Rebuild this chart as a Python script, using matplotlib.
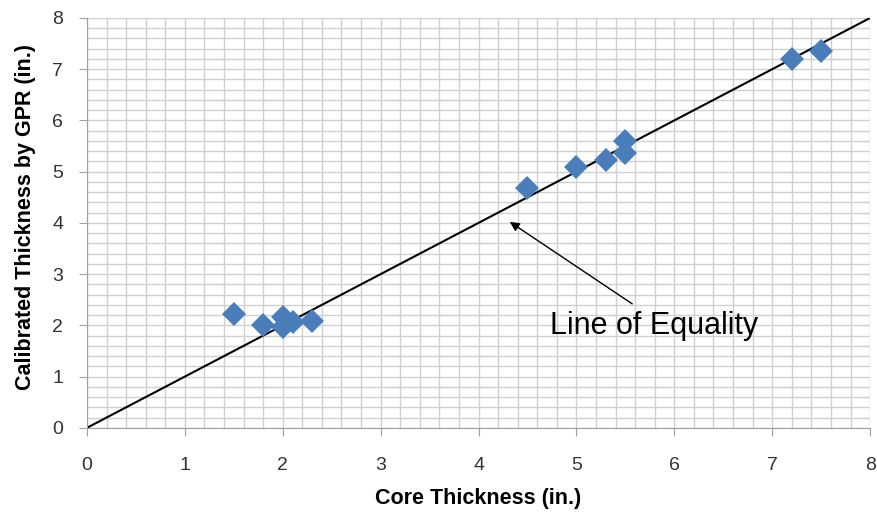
import numpy as np
import matplotlib
matplotlib.use("Agg")
import matplotlib.pyplot as plt

# values
core_thickness = [1.5, 1.8, 2.0, 2.0, 2.1, 2.3, 4.5, 5.0, 5.3, 5.5, 5.5, 7.2, 7.5]
gpr_thickness = [2.22, 2.01, 2.16, 1.97, 2.07, 2.09, 4.68, 5.10, 5.23, 5.59, 5.36, 7.19, 7.36]
equality = [0, 8]

plt.rcParams["font.family"] = ["Liberation Sans", "DejaVu Sans"]

fig = plt.figure(figsize=(8.78, 5.13), dpi=100)
ax = fig.add_axes([0.099, 0.166, 0.892, 0.799])

ax.set_xlim(0, 8)
ax.set_ylim(0, 8)
ax.set_xticks(np.arange(0, 9, 1))
ax.set_yticks(np.arange(0, 9, 1))
ax.set_xticks(np.arange(0, 8.01, 0.2), minor=True)
ax.set_yticks(np.arange(0, 8.01, 0.2), minor=True)
ax.grid(which="both", color="#d0d0d0", lw=1.0)
ax.set_axisbelow(True)
ax.tick_params(which="minor", length=0)
ax.tick_params(which="major", length=6, color="#a0a0a0", labelsize=14,
               labelcolor="#333333")
ax.tick_params(axis="x", pad=15)
ax.tick_params(axis="y", pad=11)
for s in ["top", "right"]:
    ax.spines[s].set_visible(False)
for s in ["left", "bottom"]:
    ax.spines[s].set_color("#a0a0a0")

ax.plot(equality, equality, color="black", lw=1.5, zorder=2)
ax.plot(core_thickness, gpr_thickness, "D", color="#4a7ebb", markersize=12.5,
        markeredgewidth=0, zorder=3, clip_on=False)

# label and its arrow
ax.text(5.79, 1.99, "Line of Equality", fontsize=22, ha="center", va="center")
ax.annotate("", xy=(4.32, 4.02), xytext=(5.57, 2.42),
            arrowprops=dict(arrowstyle="-|>", color="black", lw=1.0,
                            shrinkA=0, shrinkB=0, mutation_scale=14))

ax.set_xlabel("Core Thickness (in.)", fontsize=15.5, fontweight="bold")
ax.set_ylabel("Calibrated Thickness by GPR (in.)", fontsize=15.5, fontweight="bold")
ax.xaxis.set_label_coords(0.5, -0.147)
ax.yaxis.set_label_coords(-0.065, 0.515)

fig.savefig("out.png", dpi=100)
